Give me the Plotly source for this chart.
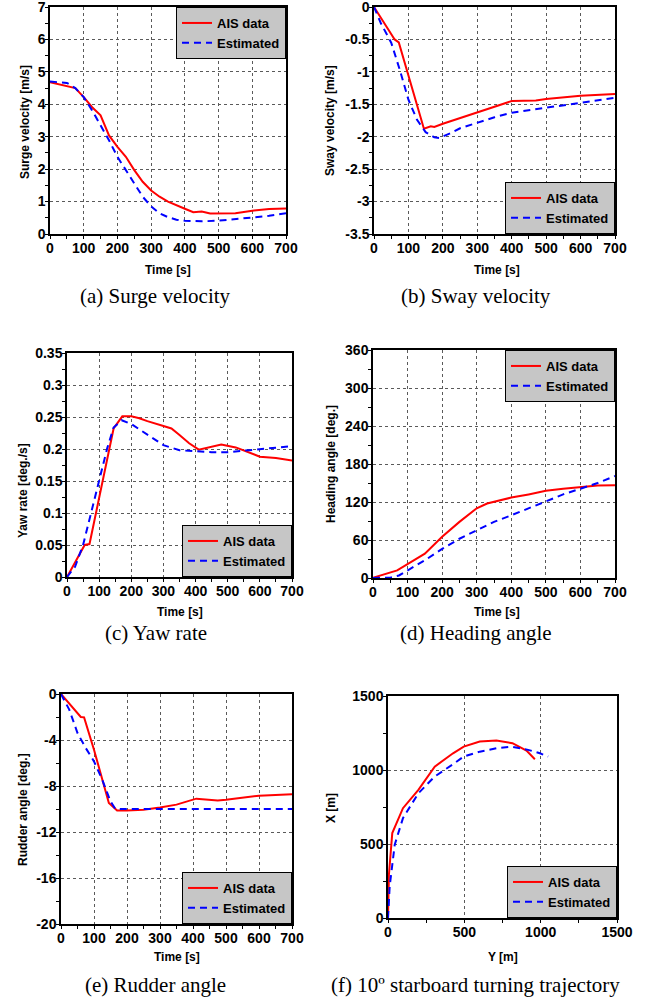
import plotly.graph_objects as go

# ---------------- data ----------------
# (a) Surge velocity [m/s]
surge_t_ais = [0, 75, 100, 125, 150, 175, 200, 225, 250, 275, 300, 325, 350, 375, 400, 425, 450, 475, 500, 550, 600, 650, 700]
surge_ais = [4.68, 4.5, 4.22, 3.91, 3.66, 3.04, 2.69, 2.38, 1.97, 1.61, 1.34, 1.15, 1.0, 0.88, 0.78, 0.67, 0.69, 0.63, 0.63, 0.64, 0.72, 0.77, 0.79]
surge_t_est = [0, 50, 75, 100, 125, 150, 175, 200, 225, 250, 275, 300, 325, 350, 375, 400, 450, 500, 550, 600, 650, 700]
surge_est = [4.7, 4.66, 4.5, 4.22, 3.81, 3.35, 2.89, 2.38, 1.97, 1.56, 1.15, 0.85, 0.64, 0.52, 0.44, 0.41, 0.39, 0.41, 0.46, 0.49, 0.56, 0.64]

# (b) Sway velocity [m/s]
sway_t_ais = [0, 60, 72, 145, 165, 175, 200, 250, 300, 335, 400, 470, 500, 600, 700]
sway_ais = [0, -0.50, -0.545, -1.876, -1.84, -1.85, -1.80, -1.71, -1.62, -1.56, -1.45, -1.44, -1.42, -1.37, -1.34]
sway_t_est = [0, 20, 50, 75, 100, 125, 150, 175, 190, 225, 250, 300, 350, 400, 450, 500, 550, 600, 650, 700]
sway_est = [0, -0.25, -0.55, -0.97, -1.43, -1.74, -1.93, -2.01, -2.02, -1.94, -1.87, -1.78, -1.70, -1.63, -1.59, -1.55, -1.52, -1.48, -1.44, -1.40]

# (c) Yaw rate [deg./s]
yaw_t_ais = [0, 55, 70, 100, 145, 172, 200, 225, 250, 300, 325, 350, 380, 410, 450, 480, 525, 575, 600, 650, 700]
yaw_ais = [0, 0.05, 0.0515, 0.125, 0.232, 0.251, 0.251, 0.248, 0.2435, 0.236, 0.232, 0.222, 0.209, 0.199, 0.2035, 0.207, 0.2025, 0.193, 0.188, 0.186, 0.182]
yaw_t_est = [0, 25, 50, 75, 100, 125, 145, 170, 200, 250, 300, 350, 400, 450, 500, 550, 600, 650, 700]
yaw_est = [0, 0.016, 0.05, 0.099, 0.151, 0.201, 0.2335, 0.245, 0.239, 0.222, 0.206, 0.198, 0.196, 0.195, 0.195, 0.197, 0.200, 0.202, 0.2045]

# (d) Heading angle [deg.]
head_t_ais = [0, 70, 150, 200, 250, 300, 330, 400, 450, 500, 550, 600, 650, 700]
head_ais = [0.5, 12, 38.5, 65, 88.6, 110, 117.6, 127, 132, 137.6, 141, 144, 146, 146.6]
head_t_est = [0, 50, 75, 100, 150, 200, 250, 300, 350, 400, 450, 500, 550, 600, 650, 700]
head_est = [0, 0.5, 4, 12, 28, 46, 62, 75.4, 88.6, 99, 110, 120, 132, 141, 150, 161]

# (e) Rudder angle [deg.]
rud_t_ais = [0, 60, 70, 100, 145, 170, 200, 250, 300, 350, 410, 475, 500, 600, 700]
rud_ais = [0, -2.0, -2.03, -4.84, -9.48, -10.14, -10.14, -10.06, -9.86, -9.62, -9.10, -9.25, -9.19, -8.84, -8.72]
rud_t_est = [0, 25, 50, 75, 100, 125, 150, 165, 700]
rud_est = [0, -1.36, -3.39, -4.70, -5.86, -7.45, -9.33, -10.0, -10.0]

# (f) Turning trajectory: Y [m] (horizontal), X [m] (vertical)
traj_Y_ais = [0, 6, 28, 98, 199, 306, 426, 496, 601, 671, 710, 815, 907, 962]
traj_X_ais = [0, 292, 574, 742, 866, 1023, 1113, 1158, 1192, 1199, 1199, 1181, 1131, 1073]
traj_Y_est = [0, 11, 44, 98, 199, 306, 426, 496, 601, 710, 809, 918, 995, 1049]
traj_X_est = [0, 214, 495, 675, 843, 956, 1039, 1091, 1124, 1147, 1158, 1136, 1113, 1091]

# tick labels
time_ticks = [0, 100, 200, 300, 400, 500, 600, 700]
surge_ticks = [0, 1, 2, 3, 4, 5, 6, 7]
sway_ticks = [0, -0.5, -1, -1.5, -2, -2.5, -3, -3.5]
sway_labels = ["0", "-0.5", "-1", "-1.5", "-2", "-2.5", "-3", "-3.5"]
yaw_ticks = [0, 0.05, 0.1, 0.15, 0.2, 0.25, 0.3, 0.35]
yaw_labels = ["0", "0.05", "0.1", "0.15", "0.2", "0.25", "0.3", "0.35"]
head_ticks = [0, 60, 120, 180, 240, 300, 360]
rud_ticks = [0, -4, -8, -12, -16, -20]
rud_labels = ["0", "-4", "-8", "-12", "-16", "-20"]
traj_ticks = [0, 500, 1000, 1500]

series_names = ["AIS data", "Estimated"]
captions = ["(a) Surge velocity", "(b) Sway velocity", "(c) Yaw rate",
            "(d) Heading angle", "(e) Rudder angle", "(f) 10º starboard turning trajectory"]
ytitles = ["Surge velocity [m/s]", "Sway velocity [m/s]", "Yaw rate [deg./s]",
           "Heading angle [deg.]", "Rudder angle [deg.]", "X [m]"]
xtitles = ["Time [s]", "Time [s]", "Time [s]", "Time [s]", "Time [s]", "Y [m]"]

# ---------------- layout geometry (pixels) ----------------
W, H = 649, 1001
def px(x): return x / W
def py(y): return 1 - y / H

# (left, right, top, bottom)
boxes = [(50, 286, 7, 234), (374, 615, 7, 234), (67, 292, 353, 577),
         (373, 615, 350, 578), (61, 292, 694, 924), (388, 617, 696, 918)]

panels = [
    (surge_t_ais, surge_ais, surge_t_est, surge_est, [0, 700], [0, 7], time_ticks, [str(v) for v in time_ticks], surge_ticks, [str(v) for v in surge_ticks], 50, 0.5),
    (sway_t_ais, sway_ais, sway_t_est, sway_est, [0, 700], [-3.5, 0], time_ticks, [str(v) for v in time_ticks], sway_ticks, sway_labels, 50, 0.25),
    (yaw_t_ais, yaw_ais, yaw_t_est, yaw_est, [0, 700], [0, 0.35], time_ticks, [str(v) for v in time_ticks], yaw_ticks, yaw_labels, 50, 0.025),
    (head_t_ais, head_ais, head_t_est, head_est, [0, 700], [0, 360], time_ticks, [str(v) for v in time_ticks], head_ticks, [str(v) for v in head_ticks], 50, 30),
    (rud_t_ais, rud_ais, rud_t_est, rud_est, [0, 700], [-20, 0], time_ticks, [str(v) for v in time_ticks], rud_ticks, rud_labels, 50, 2),
    (traj_Y_ais, traj_X_ais, traj_Y_est, traj_X_est, [0, 1500], [0, 1500], traj_ticks, [str(v) for v in traj_ticks], traj_ticks, [str(v) for v in traj_ticks], 250, 250),
]

# legend placement: (x px, y px, xanchor, yanchor)
legend_pos = [(286, 7, "right", "top"), (615, 234, "right", "bottom"), (292, 577, "right", "bottom"),
              (615, 350, "right", "top"), (292, 924, "right", "bottom"), (617, 918, "right", "bottom")]

# title positions
ytitle_pos = [(25, 122), (330, 121), (23, 491), (331, 464), (23, 810), (331, 808)]
xtitle_pos = [(168, 270), (497, 270), (180, 612), (497, 612), (177, 957), (503, 957)]
caption_pos = [(155, 296), (476, 296), (156, 633), (476, 633), (155, 985), (475, 985)]

SANS = "Liberation Sans, Arial, sans-serif"
SERIF = "Liberation Serif, Times New Roman, serif"

fig = go.Figure()
layout = dict(width=W, height=H, margin=dict(l=0, r=0, t=0, b=0, autoexpand=False), autosize=False,
              paper_bgcolor="white", plot_bgcolor="white", showlegend=True,
              annotations=[])

for i, (tx, ya, te, ye, xr, yr, xtv, xtt, ytv, ytt, xminor, yminor) in enumerate(panels):
    n = "" if i == 0 else str(i + 1)
    lg = "legend" if i == 0 else "legend" + str(i + 1)
    fig.add_trace(go.Scatter(x=tx, y=ya, mode="lines", name=series_names[0],
                             line=dict(color="#ff0000", width=2),
                             xaxis="x" + n, yaxis="y" + n, legend=lg))
    fig.add_trace(go.Scatter(x=te, y=ye, mode="lines", name=series_names[1],
                             line=dict(color="#0000ff", width=2, dash="7px,5px"),
                             xaxis="x" + n, yaxis="y" + n, legend=lg))
    l, r, t, b = boxes[i]
    common = dict(showline=True, linecolor="black", linewidth=1.5, mirror=True,
                  showgrid=True, gridcolor="#5a5a5a", griddash="3px,3px", gridwidth=1,
                  zeroline=False, ticks="", fixedrange=True, ticklabeloverflow="allow",
                  tickfont=dict(family=SANS, size=14, color="black", weight="bold"))
    layout["xaxis" + n] = dict(common, domain=[px(l), px(r)], range=xr,
                               anchor="y" + n, tickmode="array", tickvals=xtv, ticktext=xtt,
                               minor=dict(ticks="outside", ticklen=3, tickcolor="black", dtick=xminor, showgrid=False))
    layout["yaxis" + n] = dict(common, domain=[py(b), py(t)], range=yr,
                               anchor="x" + n, tickmode="array", tickvals=ytv, ticktext=ytt,
                               minor=dict(ticks="outside", ticklen=3, tickcolor="black", dtick=yminor, showgrid=False))
    lx, ly, xa, ya_ = legend_pos[i]
    layout[lg] = dict(x=px(lx), y=py(ly), xanchor=xa, yanchor=ya_, xref="paper", yref="paper",
                      bgcolor="#c6c6c6", bordercolor="black", borderwidth=1,
                      font=dict(family=SANS, size=13, color="black", weight="bold"),
                      tracegroupgap=0, itemwidth=30)
    yx, yy = ytitle_pos[i]
    layout["annotations"].append(dict(x=px(yx), y=py(yy), xref="paper", yref="paper",
                                      xanchor="center", yanchor="middle",
                                      text=ytitles[i], showarrow=False, textangle=-90,
                                      font=dict(family=SANS, size=12, color="black", weight="bold")))
    xx, xy = xtitle_pos[i]
    layout["annotations"].append(dict(x=px(xx), y=py(xy), xref="paper", yref="paper",
                                      xanchor="center", yanchor="middle",
                                      text=xtitles[i], showarrow=False,
                                      font=dict(family=SANS, size=12, color="black", weight="bold")))
    cx, cy = caption_pos[i]
    layout["annotations"].append(dict(x=px(cx), y=py(cy), xref="paper", yref="paper",
                                      xanchor="center", yanchor="middle",
                                      text=captions[i], showarrow=False,
                                      font=dict(family=SERIF, size=21, color="black")))

fig.update_layout(**layout)
# remove the default page margin so the 649x1001 figure fills the window exactly
fig.write_html("out.html", config={"displayModeBar": False},
               post_script="document.body.style.margin='0px';document.body.style.overflow='hidden';")
